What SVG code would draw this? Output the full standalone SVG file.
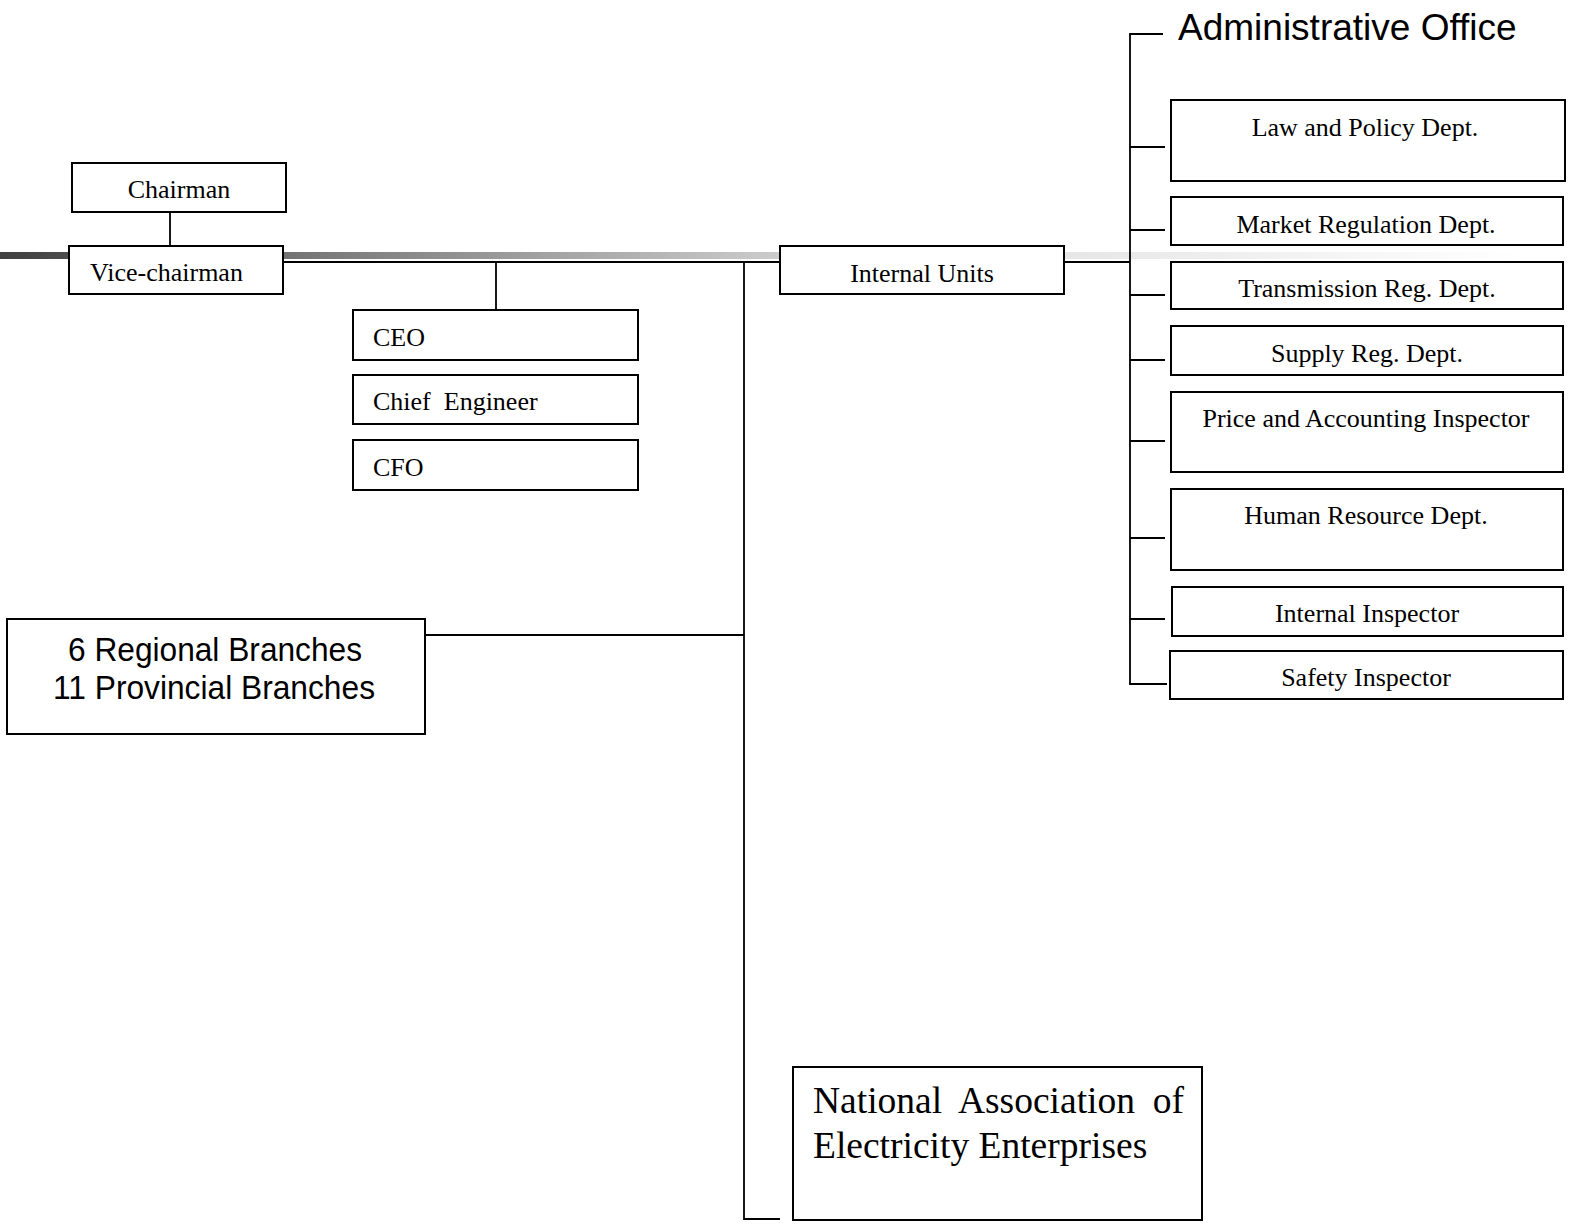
<svg xmlns="http://www.w3.org/2000/svg" width="1576" height="1225" viewBox="0 0 1576 1225">
<defs>
<linearGradient id="bar" gradientUnits="userSpaceOnUse" x1="0" y1="0" x2="1520" y2="0">
<stop offset="0" stop-color="#404040"/>
<stop offset="0.513" stop-color="#cccccc"/>
<stop offset="0.7" stop-color="#e6e6e6"/>
<stop offset="1" stop-color="#ffffff"/>
</linearGradient>
</defs>
<style>
.box{fill:#fff;stroke:#000;stroke-width:2}
.ln{fill:none;stroke:#000;stroke-width:1.8}
.t{font-family:"Liberation Serif","Times New Roman",serif;font-size:26px;fill:#000}
.tc{text-anchor:middle}
.s{font-family:"Liberation Sans",Arial,sans-serif;fill:#000}
.big{font-family:"Liberation Serif","Times New Roman",serif;font-size:37.5px;fill:#000}
</style>
<rect x="0" y="252" width="1520" height="7" fill="url(#bar)"/>
<g id="connectors">
<line class="ln" x1="170" y1="212" x2="170" y2="247"/>
<polyline class="ln" points="283,262 780,262"/>
<line class="ln" x1="496" y1="262" x2="496" y2="310"/>
<polyline class="ln" points="744,262 744,1219 780,1219"/>
<line class="ln" x1="425" y1="635" x2="744" y2="635"/>
<line class="ln" x1="1061" y1="262" x2="1130" y2="262"/>
<polyline class="ln" points="1163,34 1130,34 1130,684 1167,684"/>
<line class="ln" x1="1130" y1="147" x2="1165" y2="147"/>
<line class="ln" x1="1130" y1="230" x2="1165" y2="230"/>
<line class="ln" x1="1130" y1="295" x2="1165" y2="295"/>
<line class="ln" x1="1130" y1="360" x2="1165" y2="360"/>
<line class="ln" x1="1130" y1="441" x2="1165" y2="441"/>
<line class="ln" x1="1130" y1="538" x2="1165" y2="538"/>
<line class="ln" x1="1130" y1="619" x2="1165" y2="619"/>
</g>
<g id="chairman"><rect class="box" x="72" y="163" width="214" height="49"/><text class="t tc" x="179" y="198">Chairman</text></g>
<g id="vice-chairman"><rect class="box" x="69" y="246" width="214" height="48"/><text class="t" x="90" y="281">Vice-chairman</text></g>
<g id="ceo"><rect class="box" x="353" y="310" width="285" height="50"/><text class="t" x="373" y="346">CEO</text></g>
<g id="chief-engineer"><rect class="box" x="353" y="375" width="285" height="49"/><text class="t" x="373" y="410" xml:space="preserve">Chief  Engineer</text></g>
<g id="cfo"><rect class="box" x="353" y="440" width="285" height="50"/><text class="t" x="373" y="476">CFO</text></g>
<g id="internal-units"><rect class="box" x="780" y="246" width="284" height="48"/><text class="t tc" x="922" y="282">Internal Units</text></g>
<g id="branches"><rect class="box" x="7" y="619" width="418" height="115"/>
<text class="s tc" x="215" y="661" font-size="34" textLength="294" lengthAdjust="spacingAndGlyphs">6 Regional Branches</text>
<text class="s tc" x="214" y="699" font-size="34" textLength="322" lengthAdjust="spacingAndGlyphs">11 Provincial Branches</text></g>
<g id="national-association"><rect class="box" x="793" y="1067" width="409" height="153"/>
<text class="big" x="813" y="1113" word-spacing="8.5">National Association of</text>
<text class="big" x="813" y="1158">Electricity Enterprises</text></g>
<g id="administrative-office"><text class="s" x="1178" y="40" font-size="37">Administrative Office</text></g>
<g id="law-policy"><rect class="box" x="1171" y="100" width="394" height="81"/><text class="t tc" x="1365" y="136">Law and Policy Dept.</text></g>
<g id="market-regulation"><rect class="box" x="1171" y="197" width="392" height="48"/><text class="t tc" x="1366" y="233">Market Regulation Dept.</text></g>
<g id="transmission"><rect class="box" x="1171" y="262" width="392" height="47"/><text class="t tc" x="1367" y="297">Transmission Reg. Dept.</text></g>
<g id="supply"><rect class="box" x="1171" y="326" width="392" height="49"/><text class="t tc" x="1367" y="362">Supply Reg. Dept.</text></g>
<g id="price-accounting"><rect class="box" x="1171" y="392" width="392" height="80"/><text class="t tc" x="1366" y="427">Price and Accounting Inspector</text></g>
<g id="human-resource"><rect class="box" x="1171" y="489" width="392" height="81"/><text class="t tc" x="1366" y="524">Human Resource Dept.</text></g>
<g id="internal-inspector"><rect class="box" x="1172" y="587" width="391" height="49"/><text class="t tc" x="1367" y="622">Internal Inspector</text></g>
<g id="safety-inspector"><rect class="box" x="1170" y="651" width="393" height="48"/><text class="t tc" x="1366" y="686">Safety Inspector</text></g>
</svg>
